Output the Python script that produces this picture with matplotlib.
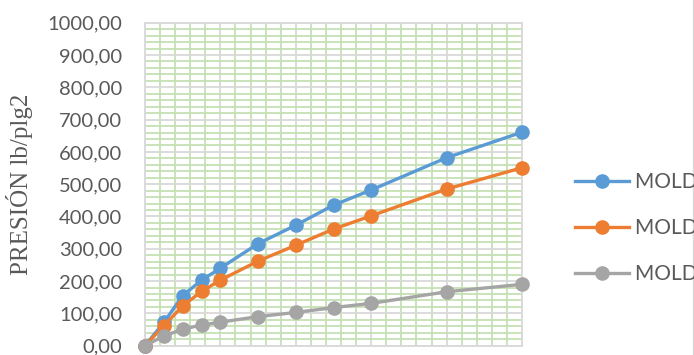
import matplotlib
matplotlib.use("Agg")
import matplotlib.pyplot as plt
from matplotlib.ticker import MultipleLocator, NullFormatter
from matplotlib.lines import Line2D

# Tiempo / desplazamiento (eje X) y presión medida por molde
x_vals = [0, 0.25, 0.5, 0.75, 1, 1.5, 2, 2.5, 3, 4, 5]
molde_1 = [0, 72, 155, 203, 240, 316, 373, 435, 482, 582, 661]
molde_2 = [0, 62, 123, 168, 203, 262, 311, 361, 402, 485, 551]
molde_3 = [0, 30, 51, 64, 73, 90, 103, 118, 131, 167, 190]

series_names = ["MOLDE 1", "MOLDE 2", "MOLDE 3"]
series_colors = ["#5b9bd5", "#ed7d31", "#a5a5a5"]
y_ticks = list(range(0, 1001, 100))
y_tick_labels = [f"{v:.2f}".replace(".", ",") for v in y_ticks]

W, H = 694, 355
fig = plt.figure(figsize=(W / 100, H / 100), dpi=100)
left, right, top, bottom = 145, 522, 22.7, 345.7
ax = fig.add_axes([left / W, 1 - bottom / H, (right - left) / W, (bottom - top) / H])

ax.set_xlim(0, 5)
ax.set_ylim(0, 1000)

# Grid: grey major lines, light green minor lines
ax.xaxis.set_major_locator(MultipleLocator(1))
ax.xaxis.set_minor_locator(MultipleLocator(0.2))
ax.yaxis.set_major_locator(MultipleLocator(100))
ax.yaxis.set_minor_locator(MultipleLocator(20))
ax.grid(which="minor", color="#c5e0b3", linewidth=1.3, zorder=0)
ax.grid(which="major", color="#d9d9d9", linewidth=1.3, zorder=0.5)
ax.set_axisbelow(True)

ax.set_yticks(y_ticks)
ax.set_yticklabels(y_tick_labels)
ax.xaxis.set_major_formatter(NullFormatter())
ax.tick_params(axis="both", which="both", length=0)
ax.tick_params(axis="y", labelsize=14.5, labelcolor="#595959", pad=16.5)
for lab in ax.get_yticklabels():
    lab.set_fontfamily("Lato")

for sp in ax.spines.values():
    sp.set_color("#d9d9d9")
    sp.set_linewidth(1.3)

for ys, name, col in zip([molde_1, molde_2, molde_3], series_names, series_colors):
    ax.plot(x_vals, ys, color=col, linewidth=2.4, marker="o", markersize=9.5,
            label=name, clip_on=False, zorder=3)

fig.text(20 / W, 1 - 184 / H, "PRESIÓN lb/plg2", rotation=90, ha="center", va="center",
         fontsize=18, color="#595959", family="Liberation Serif")

handles = [Line2D([0], [0], color=c, linewidth=2.4, marker="o", markersize=9.5)
           for c in series_colors]
fig.legend(handles, series_names, loc="upper left",
           bbox_to_anchor=(575 / W, 1 - 172 / H), frameon=False,
           prop={"family": "Lato", "size": 15}, labelcolor="#595959",
           handlelength=2.6, handletextpad=0.3, labelspacing=1.26, borderpad=0,
           borderaxespad=0)

# thin chart-area border at the right edge
fig.add_artist(Line2D([693 / W, 693 / W], [0, 1], color="#d9d9d9", linewidth=1))

fig.savefig("out.png", dpi=100)
